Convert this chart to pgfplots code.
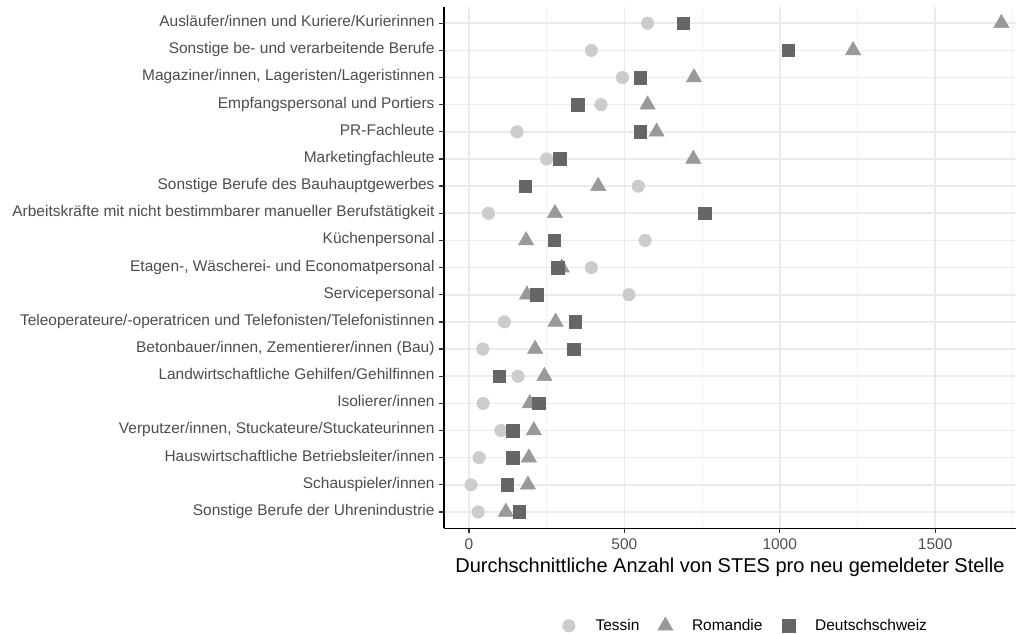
\documentclass[border=0pt]{standalone}
\usepackage{pgfplots}
\pgfplotsset{compat=1.18}
\usepackage{pgfplotstable}
\usepackage{fontspec}
\setmainfont{Liberation Sans}
\definecolor{cT}{HTML}{CCCCCC}
\definecolor{cR}{HTML}{999999}
\definecolor{cD}{HTML}{666666}
\definecolor{ticktext}{HTML}{4D4D4D}
\definecolor{gridmaj}{HTML}{EBEBEB}
\definecolor{gridmin}{HTML}{F3F3F3}

\pgfplotstableread{
y T R D
19 575 1713 690
18 394 1236 1028
17 494 724 552
16 425 575 351
15 155 604 552
14 250 722 293
13 545 416 182
12 63 277 759
11 567 184 274
10 394 299 286
9 515 187 218
8 114 279 343
7 45 213 338
6 158 243 98
5 46 196 225
4 103 209 141
3 33 193 142
2 7 190 124
1 30 119 162
}\data

\begin{document}
\begin{tikzpicture}
\path[use as bounding box] (0,0) rectangle (762.75pt,475.5pt);
\begin{axis}[
  scale only axis,
  width=429pt, height=391.0pt,
  at={(333pt,79.3pt)}, anchor=south west,
  xmin=-80, xmax=1760, ymin=0.4, ymax=19.6,
  axis x line*=bottom, axis y line*=left,
  axis line style={-, black, line width=1.1pt},
  xtick={0,500,1000,1500},
  minor xtick={250,750,1250,1750},
  ytick={1,...,19},
  yticklabels={
    Sonstige Berufe der Uhrenindustrie,
    Schauspieler/innen,
    Hauswirtschaftliche Betriebsleiter/innen,
    {Verputzer/innen, Stuckateure/Stuckateurinnen},
    Isolierer/innen,
    Landwirtschaftliche Gehilfen/Gehilfinnen,
    {Betonbauer/innen, Zementierer/innen (Bau)},
    Teleoperateure/-operatricen und Telefonisten/Telefonistinnen,
    Servicepersonal,
    {Etagen-, Wäscherei- und Economatpersonal},
    Küchenpersonal,
    Arbeitskräfte mit nicht bestimmbarer manueller Berufstätigkeit,
    Sonstige Berufe des Bauhauptgewerbes,
    Marketingfachleute,
    PR-Fachleute,
    Empfangspersonal und Portiers,
    {Magaziner/innen, Lageristen/Lageristinnen},
    Sonstige be- und verarbeitende Berufe,
    Ausläufer/innen und Kuriere/Kurierinnen},
  xmajorgrids, ymajorgrids, xminorgrids,
  major grid style={gridmaj, line width=1.2pt},
  minor grid style={gridmin, line width=0.65pt},
  tick align=outside,
  major tick length=3.6pt,
  minor tick length=0pt,
  tick style={black!80, line width=1.0pt},
  typeset ticklabels with strut,
  ticklabel style={font=\fontsize{11.6}{13}\selectfont, text=ticktext},
  /pgf/number format/assume math mode=true,
  /pgf/number format/1000 sep={},
  xlabel={Durchschnittliche Anzahl von STES pro neu gemeldeter Stelle},
  xlabel style={font=\fontsize{15}{17}\selectfont, text=black,
    at={(axis description cs:0.5,0)}, anchor=base, yshift=-33.5pt},
  legend style={at={(axis description cs:0.522,-0.185)}, anchor=center,
    draw=none, fill=none, inner sep=0pt, legend columns=3,
    nodes={inner sep=0pt, font=\fontsize{11.6}{13}\selectfont, text=black},
    /tikz/every odd column/.append style={column sep=12pt},
    /tikz/every even column/.append style={column sep=11.5pt}},
  legend image code/.code={\path[draw=none,fill=none] (-8pt,-1pt) rectangle (8pt,1pt); \draw[#1] plot coordinates {(0pt,0pt)};},
  clip=false,
]
\addplot[only marks, color=cT, mark=*, mark size=4.7pt, line width=0.4pt] table[x=T, y=y] {\data};
\addlegendentry{Tessin}
\addplot[only marks, color=cR, mark=triangle*, mark size=6.6pt, line width=0.4pt] table[x=R, y=y] {\data};
\addlegendentry{Romandie}
\addplot[only marks, color=cD, mark=square*, mark size=4.7pt, line width=0.4pt] table[x=D, y=y] {\data};
\addlegendentry{Deutschschweiz}
\end{axis}
\end{tikzpicture}
\end{document}
